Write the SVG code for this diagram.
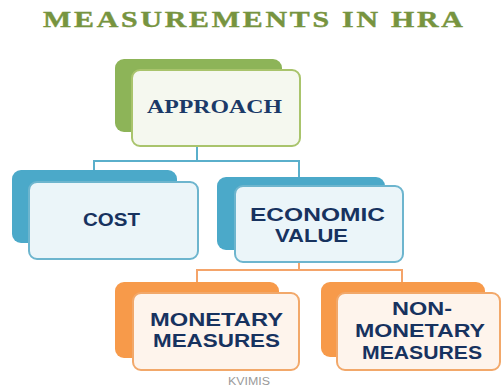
<svg xmlns="http://www.w3.org/2000/svg" width="501" height="387" viewBox="0 0 501 387">
<style>
.title{font-family:"Liberation Serif","DejaVu Serif",serif;font-weight:bold;font-size:23px;fill:#77943F;stroke:#77943F;stroke-width:0.4}
.serif{font-family:"Liberation Serif","DejaVu Serif",serif;font-weight:bold;font-size:19px;fill:#1B3A68}
.lbl{font-family:"Liberation Sans","Open Sans",sans-serif;font-weight:bold;font-size:18px;fill:#17325F}
.gb{fill:#8DB458}.gf{fill:#F5F8EF;stroke:#A9C46C;stroke-width:2}
.bb{fill:#4BA9C9}.bf{fill:#EBF5F9;stroke:#6DB5CE;stroke-width:2}
.ob{fill:#F79A4A}.of{fill:#FEF4EC;stroke:#F2A86A;stroke-width:2}
.cb{fill:none;stroke:#5AAFCB;stroke-width:2}
.co{fill:none;stroke:#F4A46A;stroke-width:2}
</style>
<rect width="501" height="387" fill="#FFFFFF"/>
<text class="title" x="33.1" y="27" transform="scale(1.3,1)" textLength="323" lengthAdjust="spacing">MEASUREMENTS IN HRA</text>
<g id="connectors">
<polyline class="cb" points="197,146 197,161 94,161 94,172"/>
<polyline class="cb" points="197,161 299,161 299,178"/>
<polyline class="co" points="299,262 299,270 197,270 197,284"/>
<polyline class="co" points="299,270 402,270 402,284"/>
</g>
<g id="approach">
<rect class="gb" x="115" y="59" width="167" height="73" rx="9"/>
<rect class="gf" x="132" y="70" width="168" height="76" rx="8"/>
<text class="serif" x="214.5" y="113" text-anchor="middle" textLength="135" lengthAdjust="spacingAndGlyphs">APPROACH</text>
</g>
<g id="cost">
<rect class="bb" x="12" y="170" width="165" height="73" rx="9"/>
<rect class="bf" x="29" y="182" width="169" height="77" rx="8"/>
<text class="lbl" x="111.5" y="226" text-anchor="middle" textLength="57" lengthAdjust="spacingAndGlyphs">COST</text>
</g>
<g id="economic">
<rect class="bb" x="217" y="177" width="168" height="73" rx="9"/>
<rect class="bf" x="235" y="186" width="168" height="76" rx="8"/>
<text class="lbl" x="317.5" y="221" text-anchor="middle" textLength="135" lengthAdjust="spacingAndGlyphs">ECONOMIC</text>
<text class="lbl" x="311.5" y="242" text-anchor="middle" textLength="73" lengthAdjust="spacingAndGlyphs">VALUE</text>
</g>
<g id="monetary">
<rect class="ob" x="115" y="282" width="164" height="76" rx="9"/>
<rect class="of" x="133" y="293" width="166" height="77" rx="8"/>
<text class="lbl" x="216.5" y="326" text-anchor="middle" textLength="133" lengthAdjust="spacingAndGlyphs">MONETARY</text>
<text class="lbl" x="216.5" y="347" text-anchor="middle" textLength="127" lengthAdjust="spacingAndGlyphs">MEASURES</text>
</g>
<g id="nonmonetary">
<rect class="ob" x="321" y="282" width="164" height="75" rx="9"/>
<rect class="of" x="337" y="293" width="163" height="77" rx="8"/>
<text class="lbl" x="422" y="315" text-anchor="middle" textLength="60" lengthAdjust="spacingAndGlyphs">NON-</text>
<text class="lbl" x="420" y="337" text-anchor="middle" textLength="130" lengthAdjust="spacingAndGlyphs">MONETARY</text>
<text class="lbl" x="422" y="359" text-anchor="middle" textLength="120" lengthAdjust="spacingAndGlyphs">MEASURES</text>
</g>
<text x="249" y="385" text-anchor="middle" font-family="Liberation Sans, sans-serif" font-size="10" fill="#9A9A9A" textLength="42" lengthAdjust="spacingAndGlyphs">KVIMIS</text>
</svg>
